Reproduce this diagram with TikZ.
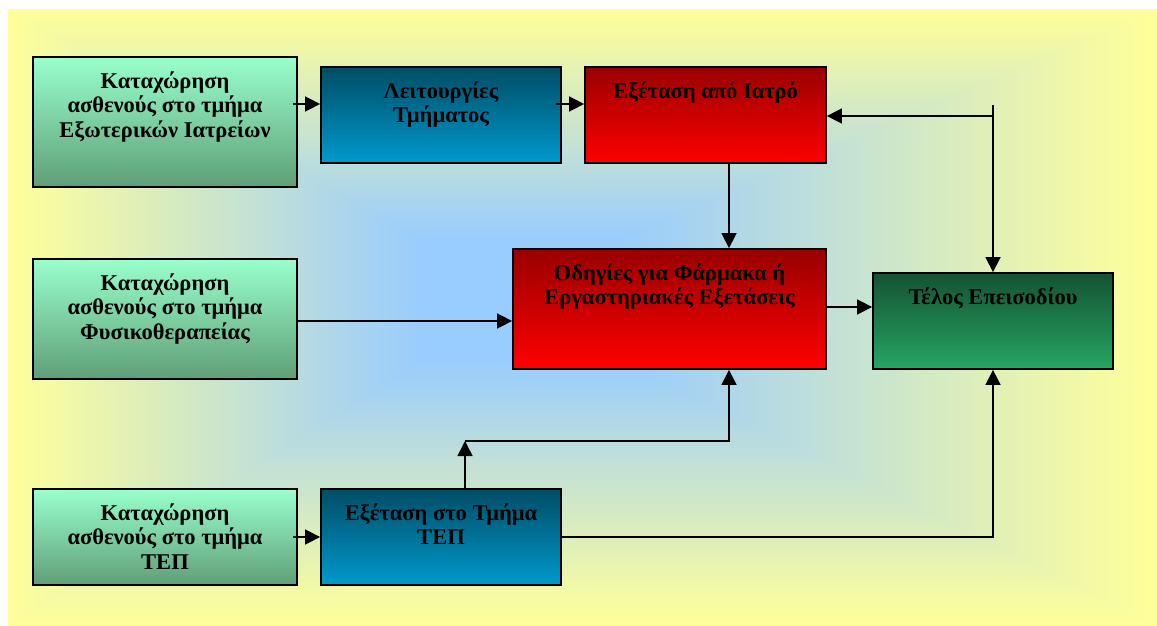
\documentclass[tikz,border=0pt]{standalone}
\usepackage{fontspec}
\setmainfont{Liberation Serif}
\usetikzlibrary{arrows.meta,calc}

\definecolor{bgY}{RGB}{255,255,153}
\definecolor{bgB}{RGB}{153,204,255}
\definecolor{regTop}{RGB}{153,255,204}
\definecolor{regBot}{RGB}{96,158,120}
\definecolor{depTop}{RGB}{0,77,102}
\definecolor{depBot}{RGB}{0,153,204}
\definecolor{docTop}{RGB}{153,0,0}
\definecolor{docBot}{RGB}{255,0,0}
\definecolor{endTop}{RGB}{20,82,50}
\definecolor{endBot}{RGB}{38,166,100}

\tikzset{
  box/.style={draw=black, line width=1.8pt, inner sep=0pt, rectangle},
  regbox/.style={box, top color=regTop, bottom color=regBot},
  depbox/.style={box, top color=depTop, bottom color=depBot},
  docbox/.style={box, top color=docTop, bottom color=docBot},
  endbox/.style={box, top color=endTop, bottom color=endBot},
  txt/.style={anchor=north, inner sep=0pt, align=center, text=black,
    font=\fontsize{22.5}{24.5}\selectfont\bfseries},
  arr/.style={line width=1.6pt, draw=black, -{Triangle[length=15pt,width=15pt]}}
}

\begin{document}
\begin{tikzpicture}[x=1pt,y=-1pt]
\useasboundingbox (0,0) rectangle (1157,626);
\fill[white] (0,0) rectangle (1157,626);

% soft rectangular background: pale yellow edges fading to light blue
\foreach \i in {0,...,90}{
  \pgfmathsetmacro\t{\i/90}
  \pgfmathsetmacro\p{100*\t}
  \fill[bgB!\p!bgY] ({8+\t*(420-8)},{9+\t*(240-9)}) rectangle ({1157-\t*(1157-620)},{626-\t*(626-360)});
}

% boxes
\node[regbox, minimum width=264pt, minimum height=130pt] (A1) at (165,122) {};
\node[regbox, minimum width=264pt, minimum height=120pt] (A2) at (165,319) {};
\node[regbox, minimum width=264pt, minimum height=96pt]  (A3) at (165,537) {};
\node[depbox, minimum width=240pt, minimum height=96pt]  (B1) at (441,115) {};
\node[depbox, minimum width=240pt, minimum height=96pt]  (B3) at (441,537) {};
\node[docbox, minimum width=241pt, minimum height=96pt]  (C1) at (705.5,115) {};
\node[docbox, minimum width=313pt, minimum height=120pt] (C2) at (669.5,309) {};
\node[endbox, minimum width=240pt, minimum height=96pt]  (D)  at (993,321) {};

% box texts
\node[txt] (A1t) at ([yshift=-15pt]A1.north) {Καταχώρηση\\ασθενούς στο τμήμα\\Εξωτερικών Ιατρείων};
\node[txt] (A2t) at ([yshift=-15pt]A2.north) {Καταχώρηση\\ασθενούς στο τμήμα\\Φυσικοθεραπείας};
\node[txt] (A3t) at ([yshift=-15pt]A3.north) {Καταχώρηση\\ασθενούς στο τμήμα\\ΤΕΠ};
\node[txt] (B1t) at ([yshift=-15pt]B1.north) {Λειτουργίες\\Τμήματος};
\node[txt] (B3t) at ([yshift=-15pt]B3.north) {Εξέταση στο Τμήμα\\ΤΕΠ};
\node[txt] (C1t) at ([yshift=-15pt]C1.north) {Εξέταση από Ιατρό};
\node[txt] (C2t) at ([yshift=-15pt]C2.north) {Οδηγίες για Φάρμακα ή\\Εργαστηριακές Εξετάσεις};
\node[txt] (Dt)  at ([yshift=-15pt]D.north)  {Τέλος Επεισοδίου};

% junction points
\coordinate (J) at (993,105);
\coordinate (K) at (465,441);

% connectors
\draw[arr] ([xshift=-5pt]A1.east |- 0,104) -- (B1.west |- 0,104);
\draw[arr] ([xshift=-6pt]B1.east |- 0,104) -- (C1.west |- 0,104);
\draw[arr] (C1.south -| 729,0) -- (C2.north -| 729,0);
\draw[arr] (J) -- (D.north);
\draw[arr] (J |- 0,116) -- (C1.east |- 0,116);
\draw[arr] (A2.east |- 0,321) -- (C2.west |- 0,321);
\draw[arr] (C2.east |- 0,307) -- (D.west |- 0,307);
\draw[arr] ([xshift=-5pt]A3.east) -- (B3.west);
\draw[arr] (B3.east) -| (D.south);
\draw[arr] (B3.north -| K) -- (K);
\draw[arr] (K) -| (C2.south -| 729,0);
\end{tikzpicture}
\end{document}
